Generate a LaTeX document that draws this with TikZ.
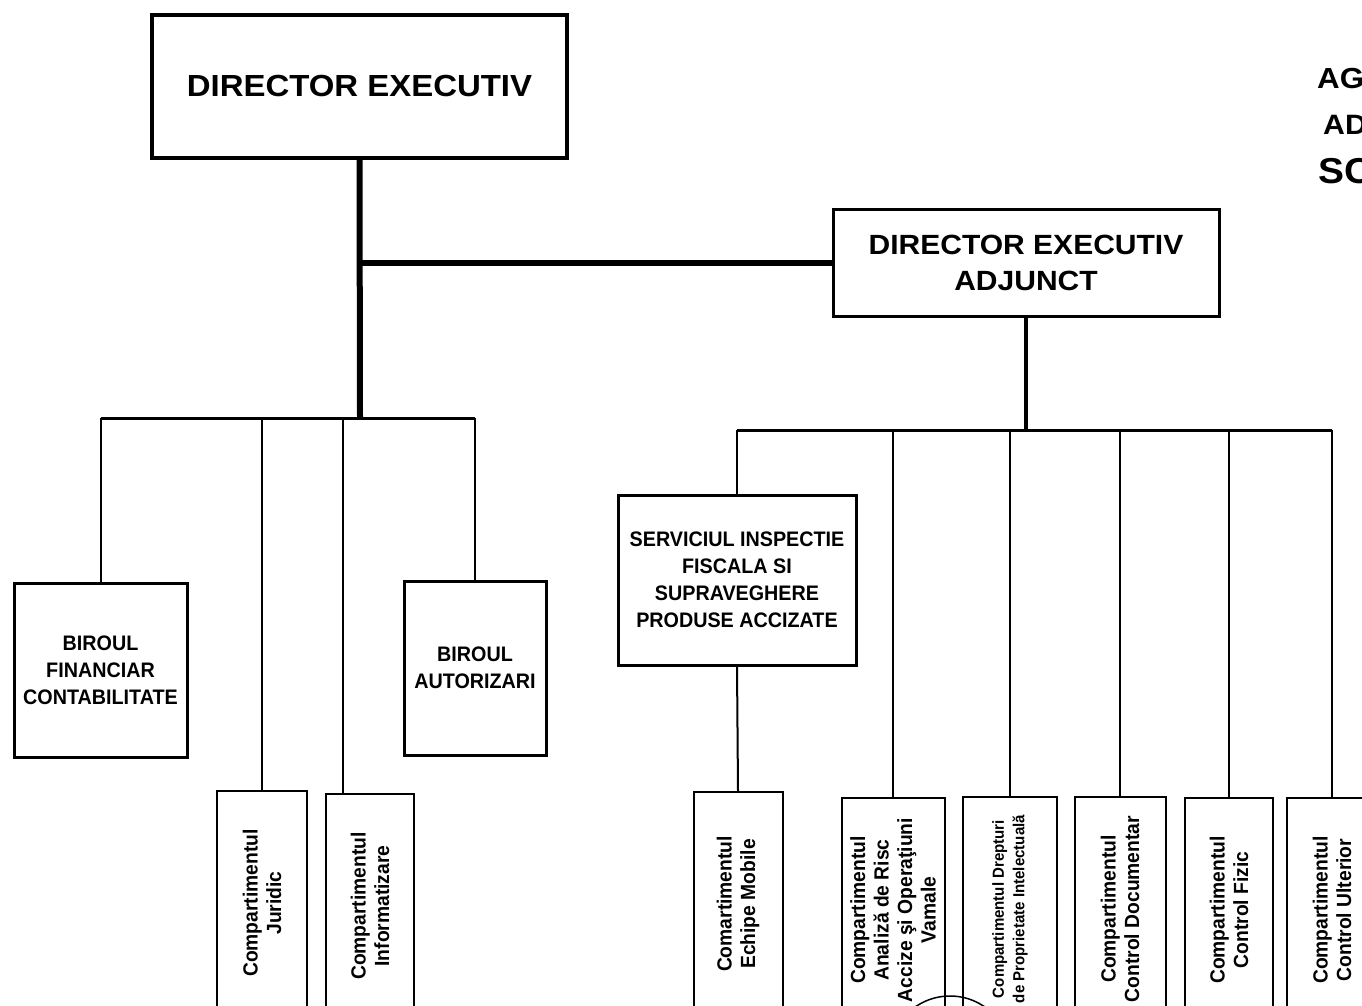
\documentclass[tikz,border=0pt]{standalone}
\usepackage{fontspec}
\setmainfont{Liberation Sans}
\newfontfamily\widefont{Liberation Sans}[FakeStretch=1.08]
\newfontfamily\narrowfont{Liberation Sans}[FakeStretch=0.94]

\begin{document}
\begin{tikzpicture}[x=1pt,y=-1pt]
    \tikzstyle{HeadStyle}=[shape        = rectangle,
                           draw,
                           align        = center,
                           inner sep    = 0pt]
    \tikzstyle{OfficeStyle}=[shape        = rectangle,
                             draw,
                             line width   = 3pt,
                             align        = center,
                             inner sep    = 0pt,
                             font         = \narrowfont\bfseries\fontsize{21}{27}\selectfont]
    \tikzstyle{CompStyle}=[shape          = rectangle,
                           draw,
                           line width     = 2pt,
                           rotate         = 90,
                           anchor         = east,
                           minimum width  = 224pt,
                           align          = center,
                           inner sep      = 0pt,
                           font           = \narrowfont\bfseries\fontsize{20.5}{23.5}\selectfont]
    \tikzstyle{TitleStyle}=[anchor       = base west,
                            inner sep    = 0pt]
    \tikzstyle{TrunkStyle}=[line width = 6pt]
    \tikzstyle{BusStyle}=[line width = 3pt]
    \tikzstyle{LinkStyle}=[line width = 2pt]
    \useasboundingbox (0,0) rectangle (1362,1006);
    \fill[white] (0,0) rectangle (1362,1006);
    \clip (0,0) rectangle (1362,1006);
    \node[HeadStyle,
          line width     = 4pt,
          minimum width  = 415pt,
          minimum height = 143pt,
          font           = \widefont\bfseries\fontsize{30.5}{36}\selectfont] (dir) at (359.5,86.5) {DIRECTOR EXECUTIV};
    \node[HeadStyle,
          line width     = 3pt,
          minimum width  = 386pt,
          minimum height = 107pt,
          font           = \widefont\bfseries\fontsize{27.8}{36}\selectfont] (adj) at (1026,262.5) {DIRECTOR EXECUTIV\\ADJUNCT};
    \node[TitleStyle, font = \widefont\bfseries\fontsize{29}{35}\selectfont] (ag) at (1317,89) {AG};
    \node[TitleStyle, font = \widefont\bfseries\fontsize{28}{35}\selectfont] (ad) at (1323,135) {AD};
    \node[TitleStyle, font = \widefont\bfseries\fontsize{36}{42}\selectfont] (sc) at (1318,183) {SC};
    \node[OfficeStyle, minimum width = 173pt, minimum height = 174pt] (bfc) at (100.5,670) {BIROUL\\FINANCIAR\\CONTABILITATE};
    \node[OfficeStyle, minimum width = 142pt, minimum height = 174pt] (ba) at (475,668) {BIROUL\\AUTORIZARI};
    \node[OfficeStyle, minimum width = 238pt, minimum height = 170pt] (sis) at (737,580) {SERVICIUL INSPECTIE\\FISCALA SI\\SUPRAVEGHERE\\PRODUSE ACCIZATE};
    \node[CompStyle, minimum height = 90pt] (jur) at (262,790) {Compartimentul\\Juridic};
    \node[CompStyle, minimum height = 88pt] (inf) at (370,793) {Compartimentul\\Informatizare};
    \node[CompStyle, minimum height = 89pt] (ech) at (738,791) {Comartimentul\\Echipe Mobile};
    \node[CompStyle, minimum height = 103pt] (ana) at (893,797) {Compartimentul\\Analiză de Risc\\Accize şi Operaţiuni\\Vamale};
    \node[CompStyle, minimum height = 94pt,
          font = \narrowfont\bfseries\fontsize{16}{20.5}\selectfont] (dpi) at (1010,796) {Compartimentul Drepturi\\de Proprietate Intelectuală};
    \node[CompStyle, minimum height = 91pt] (cdoc) at (1120,796) {Compartimentul\\Control Documentar};
    \node[CompStyle, minimum height = 88pt] (cfiz) at (1229,797) {Compartimentul\\Control Fizic};
    \node[CompStyle, minimum height = 90pt] (cult) at (1332,797) {Compartimentul\\Control Ulterior};
    \node[circle, draw, line width = 1.5pt, minimum size = 122pt] (stamp) at (950,1057) {};
    \coordinate (busL) at (360,418);
    \coordinate (busR) at (1026,430);
    \coordinate (infTap) at (343,418);
    \draw[TrunkStyle] (dir.south) -- (busL);
    \draw[TrunkStyle] (dir.south |- adj.west) -- (adj.west);
    \draw[line width = 4pt] (adj.south) -- (busR);
    \draw[BusStyle] (bfc.north |- busL) -- (ba.north |- busL);
    \draw[LinkStyle] (bfc.north) -- (bfc.north |- busL);
    \draw[LinkStyle] (jur.east) -- (jur.east |- busL);
    \draw[LinkStyle] (infTap) -- (infTap |- inf.east);
    \draw[LinkStyle] (ba.north) -- (ba.north |- busL);
    \draw[BusStyle] (sis.north |- busR) -- (cult.east |- busR);
    \draw[LinkStyle] (sis.north) -- (sis.north |- busR);
    \draw[LinkStyle] (sis.south) -- (ech.east);
    \draw[LinkStyle] (ana.east) -- (ana.east |- busR);
    \draw[LinkStyle] (dpi.east) -- (dpi.east |- busR);
    \draw[LinkStyle] (cdoc.east) -- (cdoc.east |- busR);
    \draw[LinkStyle] (cfiz.east) -- (cfiz.east |- busR);
    \draw[LinkStyle] (cult.east) -- (cult.east |- busR);
\end{tikzpicture}
\end{document}
